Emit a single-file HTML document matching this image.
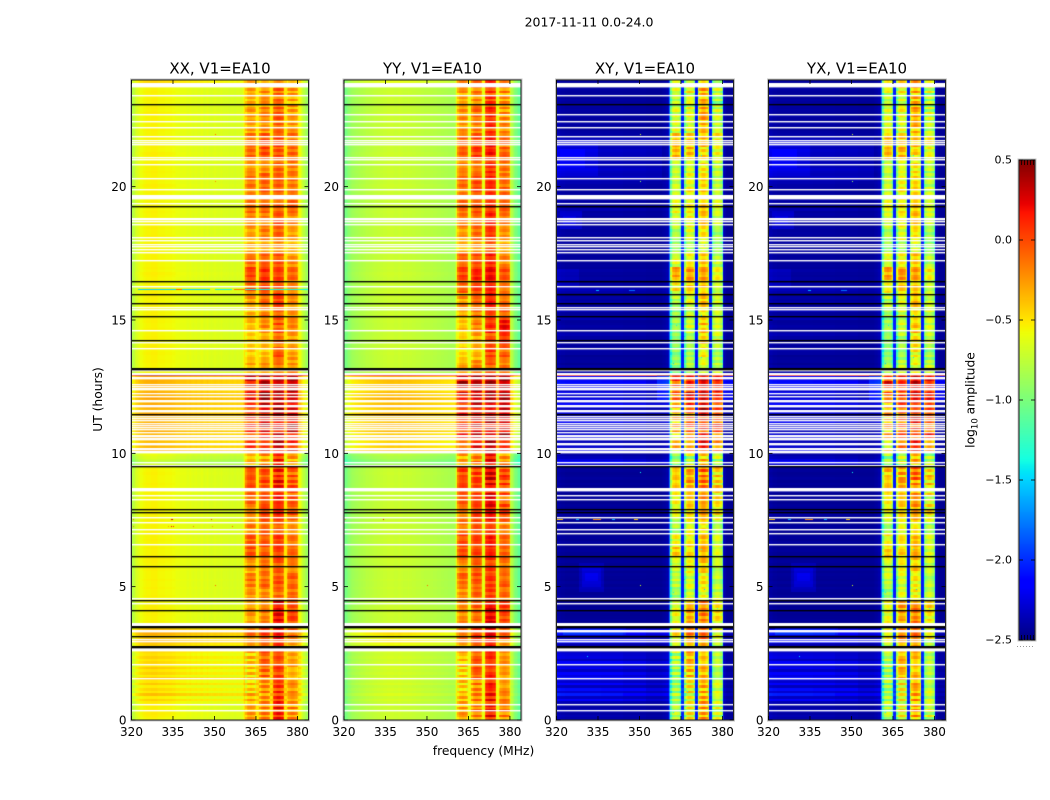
<!DOCTYPE html>
<html>
<head>
<meta charset="utf-8">
<title>2017-11-11 0.0-24.0</title>
<style>
html,body{margin:0;padding:0;background:#fff;}
#fig{position:relative;width:1050px;height:800px;overflow:hidden;background:#fff;}
canvas{position:absolute;display:block;}
svg{position:absolute;left:0;top:0;}
text{font-family:"DejaVu Sans","Liberation Sans",sans-serif;fill:#000;}
</style>
</head>
<body>
<div id="fig">
<canvas id="p0" width="177" height="640" style="left:131.5px;top:80px"></canvas>
<canvas id="p1" width="177" height="640" style="left:344px;top:80px"></canvas>
<canvas id="p2" width="177" height="640" style="left:556.5px;top:80px"></canvas>
<canvas id="p3" width="177" height="640" style="left:768.5px;top:80px"></canvas>
<canvas id="cb" width="16" height="480" style="left:1019px;top:160px"></canvas>
<svg id="ov" width="1050" height="800" viewBox="0 0 1050 800">
<text x="589" y="26.5" text-anchor="middle" font-size="12.5">2017-11-11 0.0-24.0</text>
<text x="220" y="73.5" text-anchor="middle" font-size="15">XX, V1=EA10</text>
<text x="432.5" y="73.5" text-anchor="middle" font-size="15">YY, V1=EA10</text>
<text x="645" y="73.5" text-anchor="middle" font-size="15">XY, V1=EA10</text>
<text x="857" y="73.5" text-anchor="middle" font-size="15">YX, V1=EA10</text>
<text x="483.5" y="755" text-anchor="middle" font-size="12.3">frequency (MHz)</text>
<text transform="translate(102,399.5) rotate(-90)" text-anchor="middle" font-size="12.3">UT (hours)</text>
<text transform="translate(974.5,400) rotate(-90)" text-anchor="middle" font-size="12.3">log<tspan font-size="8.5" dy="3">10</tspan><tspan dy="-3"> amplitude</tspan></text>
</svg>
</div>
<script>
// ---------- axis ranges and tick labels ----------
const freqRange = [320, 384];
const hourRange = [0, 24];
const colorRange = [-2.5, 0.5];
const xTicks = [320, 335, 350, 365, 380];
const yTicks = [0, 5, 10, 15, 20];
const colorTicks = [-2.5, -2.0, -1.5, -1.0, -0.5, 0.0, 0.5];
const colorTickLabels = ['\u22122.5', '\u22122.0', '\u22121.5', '\u22121.0', '\u22120.5', '0.0', '0.5'];
const panelNames = ['xx', 'yy', 'xy', 'yx'];

// ---------- spectral bands (MHz) ----------
const bandEdges = [[361, 365], [366, 370], [371, 375], [376, 380]];
const shapeParallel = [-0.14, -0.03, 0, 0.03, 0.03, 0, -0.03, -0.12];
const shapeCross = [-0.38, -0.08, 0, 0.05, 0.05, 0, -0.08, -0.32];

// ---------- continuum spectra, log10 amplitude per 0.5 MHz channel ----------
const contXX = [-.82,-.76,-.70,-.66,-.63,-.61,-.59,-.58,-.57,-.56,-.55,-.55,-.55,-.55,-.54,-.54,-.54,-.54,-.55,-.56,-.56,-.56,-.56,-.56,-.57,-.57,-.57,-.57,-.57,-.58,-.58,-.59,-.60,-.60,-.60,-.61,-.61,-.61,-.61,-.62,-.63,-.62,-.61,-.63,-.64,-.63,-.62,-.64,-.64,-.63,-.62,-.64,-.65,-.64,-.62,-.64,-.65,-.66,-.65,-.64,-.64,-.65,-.66,-.65,-.64,-.65,-.66,-.66,-.65,-.66,-.67,-.66,-.65,-.66,-.67,-.66,-.65,-.66,-.67,-.66,-.60,-.50,0,0,0,0,0,0,0,0,-.52,-.50,0,0,0,0,0,0,0,0,-.52,-.50,0,0,0,0,0,0,0,0,-.50,-.50,0,0,0,0,0,0,0,0,-.52,-.58,-.66,-.72,-.78,-.84,-.88,-.92];
const contYY = [-1.06,-1.02,-.98,-.94,-.91,-.89,-.87,-.86,-.85,-.84,-.83,-.82,-.81,-.81,-.80,-.79,-.78,-.78,-.77,-.77,-.76,-.76,-.75,-.75,-.74,-.74,-.73,-.73,-.72,-.72,-.72,-.71,-.71,-.71,-.71,-.71,-.72,-.72,-.72,-.71,-.71,-.72,-.72,-.73,-.73,-.73,-.72,-.73,-.73,-.74,-.74,-.74,-.75,-.75,-.75,-.75,-.76,-.76,-.77,-.77,-.77,-.77,-.78,-.78,-.79,-.79,-.79,-.80,-.80,-.80,-.81,-.81,-.82,-.82,-.82,-.83,-.83,-.84,-.84,-.84,-.78,-.60,0,0,0,0,0,0,0,0,-.62,-.60,0,0,0,0,0,0,0,0,-.62,-.60,0,0,0,0,0,0,0,0,-.62,-.60,0,0,0,0,0,0,0,0,-.70,-.80,-.88,-.95,-1.00,-1.05,-1.10,-1.14];
const contXY = [-2.42,-2.42,-2.43,-2.44,-2.44,-2.44,-2.45,-2.45,-2.45,-2.45,-2.45,-2.45,-2.45,-2.45,-2.45,-2.45,-2.45,-2.45,-2.45,-2.45,-2.45,-2.45,-2.45,-2.45,-2.45,-2.45,-2.45,-2.45,-2.45,-2.45,-2.45,-2.45,-2.45,-2.45,-2.45,-2.45,-2.45,-2.45,-2.45,-2.45,-2.45,-2.45,-2.45,-2.45,-2.45,-2.45,-2.45,-2.45,-2.45,-2.45,-2.45,-2.45,-2.45,-2.45,-2.45,-2.45,-2.45,-2.45,-2.45,-2.45,-2.45,-2.45,-2.45,-2.45,-2.45,-2.45,-2.45,-2.45,-2.45,-2.45,-2.45,-2.45,-2.45,-2.45,-2.45,-2.45,-2.44,-2.43,-2.42,-2.40,-2.35,-1.85,0,0,0,0,0,0,0,0,-2.05,-2.10,0,0,0,0,0,0,0,0,-2.10,-2.05,0,0,0,0,0,0,0,0,-2.10,-2.05,0,0,0,0,0,0,0,0,-2.30,-2.40,-2.44,-2.45,-2.45,-2.45,-2.45,-2.45];
const contYX = [-2.42,-2.42,-2.43,-2.44,-2.44,-2.44,-2.45,-2.45,-2.45,-2.45,-2.45,-2.45,-2.45,-2.45,-2.45,-2.45,-2.45,-2.45,-2.45,-2.45,-2.45,-2.45,-2.45,-2.45,-2.45,-2.45,-2.45,-2.45,-2.45,-2.45,-2.45,-2.45,-2.45,-2.45,-2.45,-2.45,-2.45,-2.45,-2.45,-2.45,-2.45,-2.45,-2.45,-2.45,-2.45,-2.45,-2.45,-2.45,-2.45,-2.45,-2.45,-2.45,-2.45,-2.45,-2.45,-2.45,-2.45,-2.45,-2.45,-2.45,-2.45,-2.45,-2.45,-2.45,-2.45,-2.45,-2.45,-2.45,-2.45,-2.45,-2.45,-2.45,-2.45,-2.45,-2.45,-2.45,-2.44,-2.43,-2.42,-2.40,-2.35,-1.80,0,0,0,0,0,0,0,0,-2.05,-2.10,0,0,0,0,0,0,0,0,-2.10,-2.05,0,0,0,0,0,0,0,0,-2.10,-2.05,0,0,0,0,0,0,0,0,-2.30,-2.40,-2.44,-2.45,-2.45,-2.45,-2.45,-2.45];

// ---------- band level per half hour (bottom to top), four bands each ----------
const bandXX = [
[-.30,-.22,.08,-.25],[-.35,-.25,.05,-.30],[-.45,-.25,.00,-.30],[-.45,-.15,-.05,-.35],
[-.42,-.15,-.02,-.30],[-.35,-.10,.05,-.30],[-.20,.00,.15,-.10],[-.30,-.20,.20,-.02],
[-.28,-.18,.18,.00],[-.25,-.20,-.10,-.12],[-.15,-.12,-.05,-.10],[-.30,-.15,-.08,-.20],
[-.05,-.08,.02,-.12],[-.05,-.05,.03,-.15],[-.20,-.10,-.10,-.25],[-.25,.00,.10,-.10],
[-.10,-.05,.05,-.15],[-.02,-.05,.10,-.10],[-.05,-.10,.05,-.12],[-.40,-.30,.05,-.35],
[-.05,.15,.20,.15],[.00,.15,.20,.20],[.00,.20,.20,.20],[.05,.20,.25,.20],
[.10,.30,.30,.30],[.20,.35,.30,.35],[-.30,-.25,-.15,-.25],[-.45,-.40,-.05,-.30],
[-.45,-.35,-.15,-.30],[-.40,-.25,-.08,-.20],[-.35,-.20,-.10,-.25],[-.30,-.12,.02,-.25],
[-.12,.00,-.05,-.20],[.02,.05,.02,-.10],[-.10,-.10,-.05,-.25],[-.35,-.30,-.25,-.40],
[-.30,-.20,-.10,-.30],[-.18,-.20,-.02,-.22],[-.15,-.10,-.10,-.10],[-.22,-.08,-.10,-.15],
[-.15,-.10,-.08,-.18],[-.25,-.25,-.10,-.20],[-.12,-.02,-.05,-.12],[-.15,-.05,-.02,-.18],
[-.30,-.25,-.12,-.30],[-.28,-.20,-.10,-.30],[-.35,-.30,-.15,-.32],[-.30,-.25,-.12,-.28]];
const bandYY = [
[-.30,-.20,.12,-.22],[-.35,-.22,.10,-.25],[-.45,-.22,.05,-.28],[-.45,-.12,.02,-.30],
[-.42,-.12,.05,-.25],[-.32,-.05,.10,-.25],[-.15,.05,.22,-.05],[-.25,-.15,.22,.00],
[-.22,-.10,.20,.02],[-.22,-.12,.00,-.12],[-.12,-.05,.05,-.10],[-.25,-.10,.00,-.18],
[-.02,-.02,.10,-.10],[-.02,.00,.12,-.10],[-.15,-.05,.00,-.20],[-.20,.02,.18,-.05],
[-.08,.00,.15,-.10],[.00,.00,.20,-.05],[-.02,-.05,.20,-.05],[-.35,-.22,.12,-.28],
[-.02,.18,.25,.18],[.02,.18,.25,.22],[.02,.22,.25,.22],[.08,.22,.30,.25],
[.12,.30,.35,.32],[.22,.35,.35,.35],[-.35,-.22,-.10,-.22],[-.48,-.35,.00,-.10],
[-.48,-.32,-.05,.05],[-.42,-.22,.05,.18],[-.35,-.18,.00,-.10],[-.30,-.10,.10,-.15],
[-.10,.02,.10,-.15],[.02,.08,.18,-.05],[-.08,-.05,.08,-.20],[-.35,-.25,-.10,-.35],
[-.28,-.12,.02,-.25],[-.15,-.12,.10,-.18],[-.12,-.05,.05,-.08],[-.20,-.02,.05,-.12],
[-.12,-.05,.08,-.15],[-.22,-.20,.05,-.18],[-.10,.02,.12,-.10],[-.12,-.02,.12,-.15],
[-.28,-.20,.02,-.25],[-.25,-.15,.05,-.25],[-.32,-.25,.00,-.28],[-.28,-.20,.02,-.25]];
const bandCross = [
[-.85,-.60,-.35,-.75],[-.85,-.65,-.35,-.80],[-.90,-.60,-.40,-.80],[-.90,-.45,-.45,-.85],
[-.85,-.45,-.42,-.80],[-.80,-.40,-.35,-.80],[-.60,-.20,-.10,-.60],[-.65,-.35,-.20,-.55],
[-.65,-.30,-.20,-.50],[-.90,-.70,-.60,-.75],[-.75,-.70,-.55,-.80],[-.75,-.60,-.45,-.75],
[-.45,-.50,-.35,-.70],[-.60,-.55,-.40,-.70],[-.85,-.65,-.55,-.85],[-.65,-.50,-.30,-.60],
[-.60,-.45,-.35,-.65],[-.45,-.35,-.25,-.55],[-.45,-.40,-.20,-.55],[-.95,-.80,-.45,-.85],
[-.50,-.20,.00,-.20],[-.45,-.20,.00,-.15],[-.40,-.15,.03,-.10],[-.35,-.10,.10,-.05],
[-.20,.00,.20,.10],[-.05,.10,.25,.15],[-.90,-.80,-.65,-.80],[-1.00,-.90,-.60,-.90],
[-.95,-.85,-.50,-.75],[-.90,-.75,-.45,-.70],[-.90,-.75,-.55,-.75],[-.85,-.65,-.40,-.75],
[-.60,-.45,-.45,-.75],[-.30,-.30,-.30,-.60],[-.65,-.60,-.45,-.80],[-.90,-.85,-.70,-.95],
[-.85,-.70,-.55,-.90],[-.70,-.60,-.40,-.75],[-.65,-.55,-.40,-.70],[-.75,-.55,-.50,-.75],
[-.75,-.65,-.50,-.80],[-.75,-.70,-.55,-.80],[-.40,-.40,-.50,-.65],[-.40,-.45,-.40,-.60],
[-.70,-.70,-.40,-.80],[-.70,-.65,-.35,-.75],[-.80,-.75,-.40,-.85],[-.70,-.60,-.35,-.75]];

// ---------- row gains per 0.1 h (bottom to top) ----------
const rowCont = [
.00,.02,.03,.02,.00,.02,.03,.12,.02,.18,.04,.10,.02,.14,.05,.16,.03,.12,.06,.14,.04,.10,.05,.12,.06,.10,
.10,.12,.14,.22,.15,.16,.24,.20,.10,
.00,.01,.00,.00,.01,.00,.02,.01,.00,.00,.00,.01,.00,.00,.01,.00,.00,.01,.00,.00,
.00,.01,.00,.00,.01,.02,.01,.00,.00,.01,.00,.00,.01,.00,.00,.01,.00,.00,.00,.01,
.00,.00,.01,.00,.01,.00,.00,.01,.00,.00,.01,.00,.00,.01,.00,.00,.00,.01,.00,.00,
-.12,-.20,-.15,-.10,-.05,
.18,.24,.20,.26,.18,.22,.26,.20,.24,.20,.26,.22,.25,.18,.26,.22,.20,.26,.24,.20,.26,.22,.25,.20,.22,.26,.22,.24,.26,.95,
.00,.01,.00,.00,.01,.00,.00,.01,.00,.02,
.01,.00,.00,.01,.00,.00,.01,.00,.00,.01,.00,.00,.01,.00,.00,.01,.00,.00,.01,.00,
.02,.01,.00,.01,.00,.00,.01,.02,.00,.01,.00,.00,.01,.00,.00,.01,.00,.00,.01,.00,
.00,.01,.00,.00,.01,.00,.00,.01,.00,.00,.01,.00,.01,.00,.00,.01,.00,.00,.01,.00,
.02,.00,.01,.00,.00,.01,.00,.00,.01,.00,.00,.01,.02,.00,.00,.01,.00,.00,.01,.00,
.00,.01,.00,.00,.01,.00,.00,.02,.00,.01,.00,.00,.01,.00,.00,.01,.00,.02,.05,.10];
// YY continuum response relative to XX: [hourFrom, hourTo, scale]
const yyRowScale = [[0,2.6,0.4],[10,12.9,1.5]];
const rowCross = [
.05,.08,.05,.10,.05,.05,.08,.30,.12,.40,.15,.35,.10,.30,.15,.35,.20,.30,.12,.25,.15,.30,.10,.20,.18,.12,
.05,.08,.10,.35,.10,.12,.35,.30,.10,
.02,.00,.02,.01,.00,.03,.01,.00,.02,.00,.01,.02,.00,.01,.03,.00,.02,.00,.01,.02,
.00,.03,.01,.00,.02,.00,.01,.00,.02,.01,.00,.03,.00,.02,.01,.00,.02,.03,.00,.01,
.00,.02,.05,.01,.00,.02,.00,.01,.03,.00,.02,.01,.00,.02,.00,.03,.01,.00,.02,.00,
.12,.30,.20,.10,.05,
.20,.25,.15,.30,.10,.20,.30,.15,.10,.20,.15,.25,.10,.20,.15,.30,.10,.20,.30,.15,.20,.10,.25,.15,.30,.20,.35,.25,.30,2.60,
.05,.02,.04,.00,.03,.02,.00,.04,.05,.02,
.03,.05,.02,.04,.08,.03,.02,.05,.03,.02,.08,.04,.02,.10,.05,.02,.06,.03,.05,.02,
.06,.10,.03,.05,.02,.04,.02,.03,.05,.02,.03,.02,.04,.02,.03,.05,.02,.03,.02,.04,
.03,.02,.04,.03,.05,.02,.04,.03,.02,.05,.03,.08,.04,.02,.05,.03,.06,.03,.02,.05,
.05,.08,.04,.06,.03,.05,.08,.04,.06,.03,.05,.04,.06,.08,.03,.05,.04,.06,.03,.05,
.04,.02,.03,.05,.02,.03,.06,.02,.04,.03,.05,.02,.04,.02,.03,.02,.04,.02,.03,.02];
const crossFade = [1, 1, 0.95, 0.8, 0.6, 0.45, 0.3, 0.2, 0.1];
const rowBand = [
.08,-.05,.10,-.06,.05,.10,-.08,.10,-.10,.12,-.12,.10,-.08,.12,-.10,.10,-.12,.14,-.08,.12,-.10,.10,-.12,.14,-.10,.12,
-.05,.05,.08,.12,-.05,.06,.12,.05,-.05,
.00,.05,-.04,-.03,.08,.02,.05,-.05,.06,-.02,.04,-.06,.06,.02,-.04,.05,-.08,.08,-.04,.03,
-.08,.05,.08,-.02,.05,-.08,.02,.06,-.05,.08,-.02,.04,-.08,.06,.04,-.04,-.06,.08,.03,-.02,
-.06,.02,.05,.04,.00,-.05,.06,.03,-.03,.06,-.05,.03,.05,.00,-.04,.05,.03,-.02,.02,.05,
-.08,.12,.05,-.05,.08,
.12,-.10,.15,-.05,.10,-.12,.15,-.08,.12,-.05,.15,-.10,.08,.15,-.05,.10,-.12,.15,.05,-.08,.12,-.10,.15,.02,-.05,.15,-.10,.12,.10,.20,
-.05,.10,-.08,.05,-.06,.08,.02,-.04,.08,-.02,
.05,-.05,.08,-.03,.06,-.06,.05,.02,-.06,.08,.02,-.04,.06,-.08,.10,-.03,.05,-.05,.10,.02,
-.08,.12,-.06,.08,.02,-.05,.05,-.04,.02,.06,-.08,.04,.06,-.03,-.05,.08,-.02,.04,.06,-.05,
-.02,.05,.03,-.04,.06,.02,-.05,.05,.03,-.04,.08,-.02,.05,-.06,.04,.06,-.03,.05,-.02,.04,
.06,-.05,.03,.05,-.04,.06,.02,-.06,.05,.03,-.02,.08,-.04,.05,-.03,.06,.00,.04,-.05,.06,
-.05,.08,-.06,.05,.08,-.05,.06,-.08,.08,.02,-.05,.08,-.06,.06,.04,-.05,.08,-.08,.10,.05];
const bandRowShift = [0, 7, 13, 19];
const bandStripeScale = [1.3, 1.3, 1.8, 1.8];

// ---------- flagged rows: [hour, thickness in screen px] ----------
const whiteRows = [[23.81,4],[23.43,1],[22.71,1],[22.44,1],[22.21,1],[21.88,1],[21.75,1],[21.65,1],[21.58,1],[21.09,1],[21.01,1],[20.84,1],[20.31,1],[19.90,1],[19.61,4],[19.37,1],[18.80,2],[18.71,1],[18.58,1],[18.09,1],[17.97,1],[17.85,1],[17.75,1],[17.63,1],[17.52,1],[17.22,1],[16.25,1],[15.48,1],[15.38,1],[14.61,1],[14.16,1],[13.95,1],[13.10,1],[12.99,1],[12.94,1],[12.81,2],[12.57,1],[12.50,1],[12.40,2],[12.25,1],[12.15,1],[11.95,2],[11.78,2],[11.60,2],[11.40,1],[11.31,1],[11.22,1],[11.13,1],[11.04,1],[10.96,1],[10.88,1],[10.80,1],[10.65,2],[10.54,2],[10.35,2],[10.18,2],[10.05,2],[9.65,1],[9.56,1],[8.64,3],[8.43,1],[8.27,1],[7.61,1],[7.41,1],[7.15,1],[7.00,1],[6.59,1],[4.56,1],[4.37,1],[3.58,3],[3.35,2],[3.03,1],[2.93,1],[2.63,3],[2.09,1],[1.54,1],[0.60,1],[0.36,1]];
const blackRows = [[23.09,1],[19.26,1],[16.45,1],[15.96,1],[15.62,1],[15.14,1],[14.22,1],[13.17,2],[11.46,1],[9.49,1],[7.90,1],[7.78,1],[6.14,1],[5.76,1],[4.49,1],[4.11,1],[3.50,2],[3.14,1],[2.75,2]];

// ---------- continuum patches on the cross panels: [hourFrom, hourTo, freqFrom, freqTo, added] ----------
const crossPatches = [[20.2,21.9,320,358,.06],[20.4,21.7,320,335,.08],[20.7,21.4,321,330,.08],[18.4,19.1,321,329,.10],[18.6,18.9,322,327,.08],[4.8,5.9,328,337,.08],[5,5.7,329,336,.08],[5.2,5.5,330,335,.06],[3.15,3.45,322,345,.12],[12,13,356,361,.25],[12,13,380,384,.18],[16.2,16.9,320,328,.06]];

// ---------- thin anomalous rows: [panelIndices, hour, freqFrom, freqTo, value] ----------
const thinRows = [[[0],16.15,322,336,-1.5],[[0],16.15,336,338,-.05],[[0],16.15,338,348,-1.5],[[0],16.15,350,356,-1.4],[[0],16.15,357,361,-.15],[[0],16.15,361,384,-1.4],[[0],9.69,340,361,-1.3],[[0,1],9.69,334,335,.15],[[0,1],9.69,348,349,.1],[[2,3],9.69,320,322,-.7],[[2,3],9.69,332,336,-1.2],[[2,3],9.69,346,350,-1.3],[[2,3],7.53,320,322,-.4],[[2,3],7.53,333,336,-.2],[[2,3],7.53,348,349.5,-.4],[[2,3],7.53,327,328,-1.6],[[2,3],7.53,340,341,-1.6],[[2,3],16.12,334,335,-1.6],[[2,3],16.12,346,348,-1.8]];

// ---------- single-cell spikes: [panelIndices, hour, freq, value] ----------
const spikes = [[[0],7.55,320.5,-.1],[[0],7.55,334,.2],[[0],7.55,334.5,.3],[[0],7.55,348.5,.0],[[0],7.28,320.5,-.2],[[0],7.28,333,-.3],[[0],7.28,334,.2],[[0],7.28,335,.1],[[0],7.28,342,-.2],[[0],7.28,349,-.3],[[0],7.28,356,-.1],[[0,1],5.06,350,-.1],[[0],21.97,350,-.1],[[0],20.2,350,-.2],[[1],7.52,334,.2],[[1],7.52,320.5,-.2],[[2,3],5.06,350,-.7],[[2,3],21.97,350,-.7],[[2,3],20.2,350,-.9],[[2,3],9.3,350,-1.4],[[2,3],2.4,331,-1.5],
[[2,3],22.3,367,-1.3],[[2,3],21.2,372,-1.4],[[2,3],19.9,378,-1.5],[[2,3],18.6,368,-1.4],[[2,3],17.8,373,-1.4],[[2,3],17.2,377,-1.3],[[2,3],15.4,368,-1.6],[[2,3],15.2,372,-1.4],[[2,3],14.8,363,-1.4],[[2,3],14.4,366,-1.5],[[2,3],13.6,372,-1.4],[[2,3],13.4,362,-1.5],[[2,3],6.4,372,-1.4],[[2,3],5.3,366,-1.5],[[2,3],4.8,362,-1.4],[[2,3],4.9,373,-1.5],[[2,3],4.2,378,-1.3],[[2,3],2.2,361,-1.5],[[2,3],1.1,367,-1.4],[[2,3],0.3,362,-1.4]];

// ---------- colour scale ----------
const jetR = [[0,0],[.35,0],[.66,1],[.89,1],[1,.5]];
const jetG = [[0,0],[.125,0],[.375,1],[.64,1],[.91,0],[1,0]];
const jetB = [[0,.5],[.11,1],[.34,1],[.65,0],[1,0]];
function lerpTable(t, tab){
  for(let i=1;i<tab.length;i++){
    if(t<=tab[i][0]){
      const a=tab[i-1],b=tab[i];
      return a[1]+(b[1]-a[1])*(t-a[0])/(b[0]-a[0]);
    }
  }
  return tab[tab.length-1][1];
}
function jet(v){
  const t=Math.max(0,Math.min(1,(v-colorRange[0])/(colorRange[1]-colorRange[0])));
  return 'rgb('+Math.round(255*lerpTable(t,jetR))+','+Math.round(255*lerpTable(t,jetG))+','+Math.round(255*lerpTable(t,jetB))+')';
}

// ---------- axis functions (canvas-local pixels) ----------
const plotW = 177, plotH = 640;
function xPos(f){ return (f-freqRange[0])/(freqRange[1]-freqRange[0])*plotW; }
function yPos(h){ return plotH-(h-hourRange[0])/(hourRange[1]-hourRange[0])*plotH; }

const contByPanel = [contXX, contYY, contXY, contYX];
const bandByPanel = [bandXX, bandYY, bandCross, bandCross];

function bandOf(f){
  for(let b=0;b<bandEdges.length;b++){
    if(f>=bandEdges[b][0] && f<bandEdges[b][1]) return b;
  }
  return -1;
}
function cellValue(p,row,col){
  const hour=row*0.1, f=320+col*0.5, b=bandOf(f), cross=p>=2;
  if(b>=0){
    const idx=Math.round((f-bandEdges[b][0])*2);
    const shape=(cross?shapeCross:shapeParallel)[idx]||0;
    const lvl=(bandByPanel[p][Math.floor(hour*2)]||[0,0,0,0])[b];
    const stripe=(rowBand[(row+bandRowShift[b]+(p===1||p===3?3:0))%240]||0)*bandStripeScale[p];
    return lvl+shape+stripe;
  }
  let v=contByPanel[p][col]||-2.45;
  if(cross){
    const g=rowCross[row]||0;
    const fade=crossFade[Math.floor((f-320)/8)];
    v+=(g>1)?g:g*(fade===undefined?0.1:fade);
    for(const q of crossPatches){
      if(hour>=q[0]&&hour<q[1]&&f>=q[2]&&f<q[3]) v+=q[4];
    }
  } else {
    let g=rowCont[row]||0;
    if(p===1){
      for(const s of yyRowScale){
        if(hour>=s[0]&&hour<s[1]) g*=s[2];
      }
    }
    v+=g;
  }
  return v;
}

function drawPanel(p){
  const ctx=document.getElementById('p'+p).getContext('2d');
  const rows=240, cols=128;
  for(let r=0;r<rows;r++){
    const y1=Math.round(yPos((r+1)*0.1)), y0=Math.round(yPos(r*0.1));
    for(let c=0;c<cols;c++){
      const x0=Math.round(xPos(320+c*0.5)), x1=Math.round(xPos(320+(c+1)*0.5));
      ctx.fillStyle=jet(cellValue(p,r,c));
      ctx.fillRect(x0,y1,x1-x0,y0-y1);
    }
  }
  for(const t of thinRows){
    if(t[0].indexOf(p)<0) continue;
    ctx.fillStyle=jet(t[4]);
    ctx.fillRect(Math.round(xPos(t[2])),Math.round(yPos(t[1])),Math.round(xPos(t[3])-xPos(t[2])),1);
  }
  for(const s of spikes){
    if(s[0].indexOf(p)<0) continue;
    ctx.fillStyle=jet(s[3]);
    ctx.fillRect(Math.round(xPos(s[2])),Math.round(yPos(s[1])),1,1);
  }
  for(const w of whiteRows){
    const y=Math.round(yPos(w[0])-w[1]/2);
    ctx.fillStyle='#fff';
    ctx.fillRect(0,y,plotW,w[1]);
    ctx.fillStyle='rgba(255,255,255,0.4)';
    ctx.fillRect(0,y+w[1],plotW,1);
  }
  for(const k of blackRows){
    const y=Math.round(yPos(k[0])-k[1]/2);
    ctx.fillStyle='#000';
    ctx.fillRect(0,y,plotW,k[1]);
    ctx.fillStyle='rgba(0,0,0,0.35)';
    ctx.fillRect(0,y+k[1],plotW,1);
  }
}
for(let p=0;p<4;p++) drawPanel(p);

// colorbar gradient
(function(){
  const ctx=document.getElementById('cb').getContext('2d');
  for(let y=0;y<480;y++){
    ctx.fillStyle=jet(colorRange[1]-(y+0.5)/480*(colorRange[1]-colorRange[0]));
    ctx.fillRect(0,y,16,1);
  }
})();

// ---------- overlay: spines, ticks, tick labels ----------
const svg=document.getElementById('ov');
const NS='http://www.w3.org/2000/svg';
const panelLefts=[131.5,344,556.5,768.5];
const plotTop=80;

panelLefts.forEach(function(L,i){
  const halo=document.createElementNS(NS,'rect');
  
  
  halo.setAttribute('x',L-0.5);halo.setAttribute('y',plotTop-0.5);
  halo.setAttribute('width',plotW+1);halo.setAttribute('height',plotH+1);
  halo.setAttribute('fill','none');halo.setAttribute('stroke','#c4c4c4');halo.setAttribute('stroke-width','2');
  svg.appendChild(halo);

  const spine=document.createElementNS(NS,'rect');
  
  
  spine.setAttribute('x',L);spine.setAttribute('y',plotTop);
  spine.setAttribute('width',plotW);spine.setAttribute('height',plotH);
  spine.setAttribute('fill','none');spine.setAttribute('stroke','#222');spine.setAttribute('stroke-width','1');
  svg.appendChild(spine);

  xTicks.forEach(function(f){
    const x=L+xPos(f);
    [[plotTop,plotTop+4],[plotTop+plotH,plotTop+plotH-4]].forEach(function(seg){
      const t=document.createElementNS(NS,'line');
      
      
      t.setAttribute('x1',x);t.setAttribute('x2',x);t.setAttribute('y1',seg[0]);t.setAttribute('y2',seg[1]);
      t.setAttribute('stroke','#000');t.setAttribute('stroke-width','0.8');
      svg.appendChild(t);
    });
    const lab=document.createElementNS(NS,'text');
    
    
    lab.setAttribute('x',x);lab.setAttribute('y',736);
    lab.setAttribute('text-anchor','middle');lab.setAttribute('font-size','12');
    lab.textContent=String(f);
    svg.appendChild(lab);
  });

  yTicks.forEach(function(h){
    const y=plotTop+yPos(h);
    [[L,L+4],[L+plotW,L+plotW-4]].forEach(function(seg){
      const t=document.createElementNS(NS,'line');
      
      
      t.setAttribute('x1',seg[0]);t.setAttribute('x2',seg[1]);t.setAttribute('y1',y);t.setAttribute('y2',y);
      t.setAttribute('stroke','#000');t.setAttribute('stroke-width','0.8');
      svg.appendChild(t);
    });
    const lab=document.createElementNS(NS,'text');
    
    
    lab.setAttribute('x',L-5);lab.setAttribute('y',y+4.5);
    lab.setAttribute('text-anchor','end');lab.setAttribute('font-size','12');
    lab.textContent=String(h);
    svg.appendChild(lab);
  });
});

// colorbar frame, ticks and labels
(function(){
  const cbL=1019,cbT=160,cbW=16,cbH=480;
  function cbY(v){ return cbT+(colorRange[1]-v)/(colorRange[1]-colorRange[0])*cbH; }

  const halo=document.createElementNS(NS,'rect');
  
  
  halo.setAttribute('x',cbL-0.5);halo.setAttribute('y',cbT-0.5);
  halo.setAttribute('width',cbW+1);halo.setAttribute('height',cbH+1);
  halo.setAttribute('fill','none');halo.setAttribute('stroke','#c4c4c4');halo.setAttribute('stroke-width','2');
  svg.appendChild(halo);

  const frame=document.createElementNS(NS,'rect');
  
  
  frame.setAttribute('x',cbL);frame.setAttribute('y',cbT);
  frame.setAttribute('width',cbW);frame.setAttribute('height',cbH);
  frame.setAttribute('fill','none');frame.setAttribute('stroke','#222');frame.setAttribute('stroke-width','1');
  svg.appendChild(frame);

  colorTicks.forEach(function(v,i){
    const y=cbY(v);
    [[cbL,cbL+4],[cbL+cbW,cbL+cbW-4]].forEach(function(seg){
      const t=document.createElementNS(NS,'line');
      
      
      t.setAttribute('x1',seg[0]);t.setAttribute('x2',seg[1]);t.setAttribute('y1',y);t.setAttribute('y2',y);
      t.setAttribute('stroke','#000');t.setAttribute('stroke-width','0.8');
      svg.appendChild(t);
    });
    const lab=document.createElementNS(NS,'text');
    
    
    lab.setAttribute('x',cbL-7);lab.setAttribute('y',y+3.5);
    lab.setAttribute('text-anchor','end');lab.setAttribute('font-size','11');
    lab.textContent=colorTickLabels[i];
    svg.appendChild(lab);
  });

  for(let k=0;k<5;k++){
    const x=cbL+2.5+k*3;
    [[cbT,cbT+5],[cbT+cbH,cbT+cbH-5]].forEach(function(seg){
      const c=document.createElementNS(NS,'line');
      
      
      c.setAttribute('x1',x);c.setAttribute('x2',x);c.setAttribute('y1',seg[0]);c.setAttribute('y2',seg[1]);
      c.setAttribute('stroke','#000');c.setAttribute('stroke-width','0.8');
      svg.appendChild(c);
    });
  }
  const dots=document.createElementNS(NS,'line');
  
  
  dots.setAttribute('x1',cbL-2);dots.setAttribute('x2',cbL+cbW);dots.setAttribute('y1',646.5);dots.setAttribute('y2',646.5);
  dots.setAttribute('stroke','#999');dots.setAttribute('stroke-width','1');dots.setAttribute('stroke-dasharray','1 2');
  svg.appendChild(dots);
})();
</script>
</body>
</html>
